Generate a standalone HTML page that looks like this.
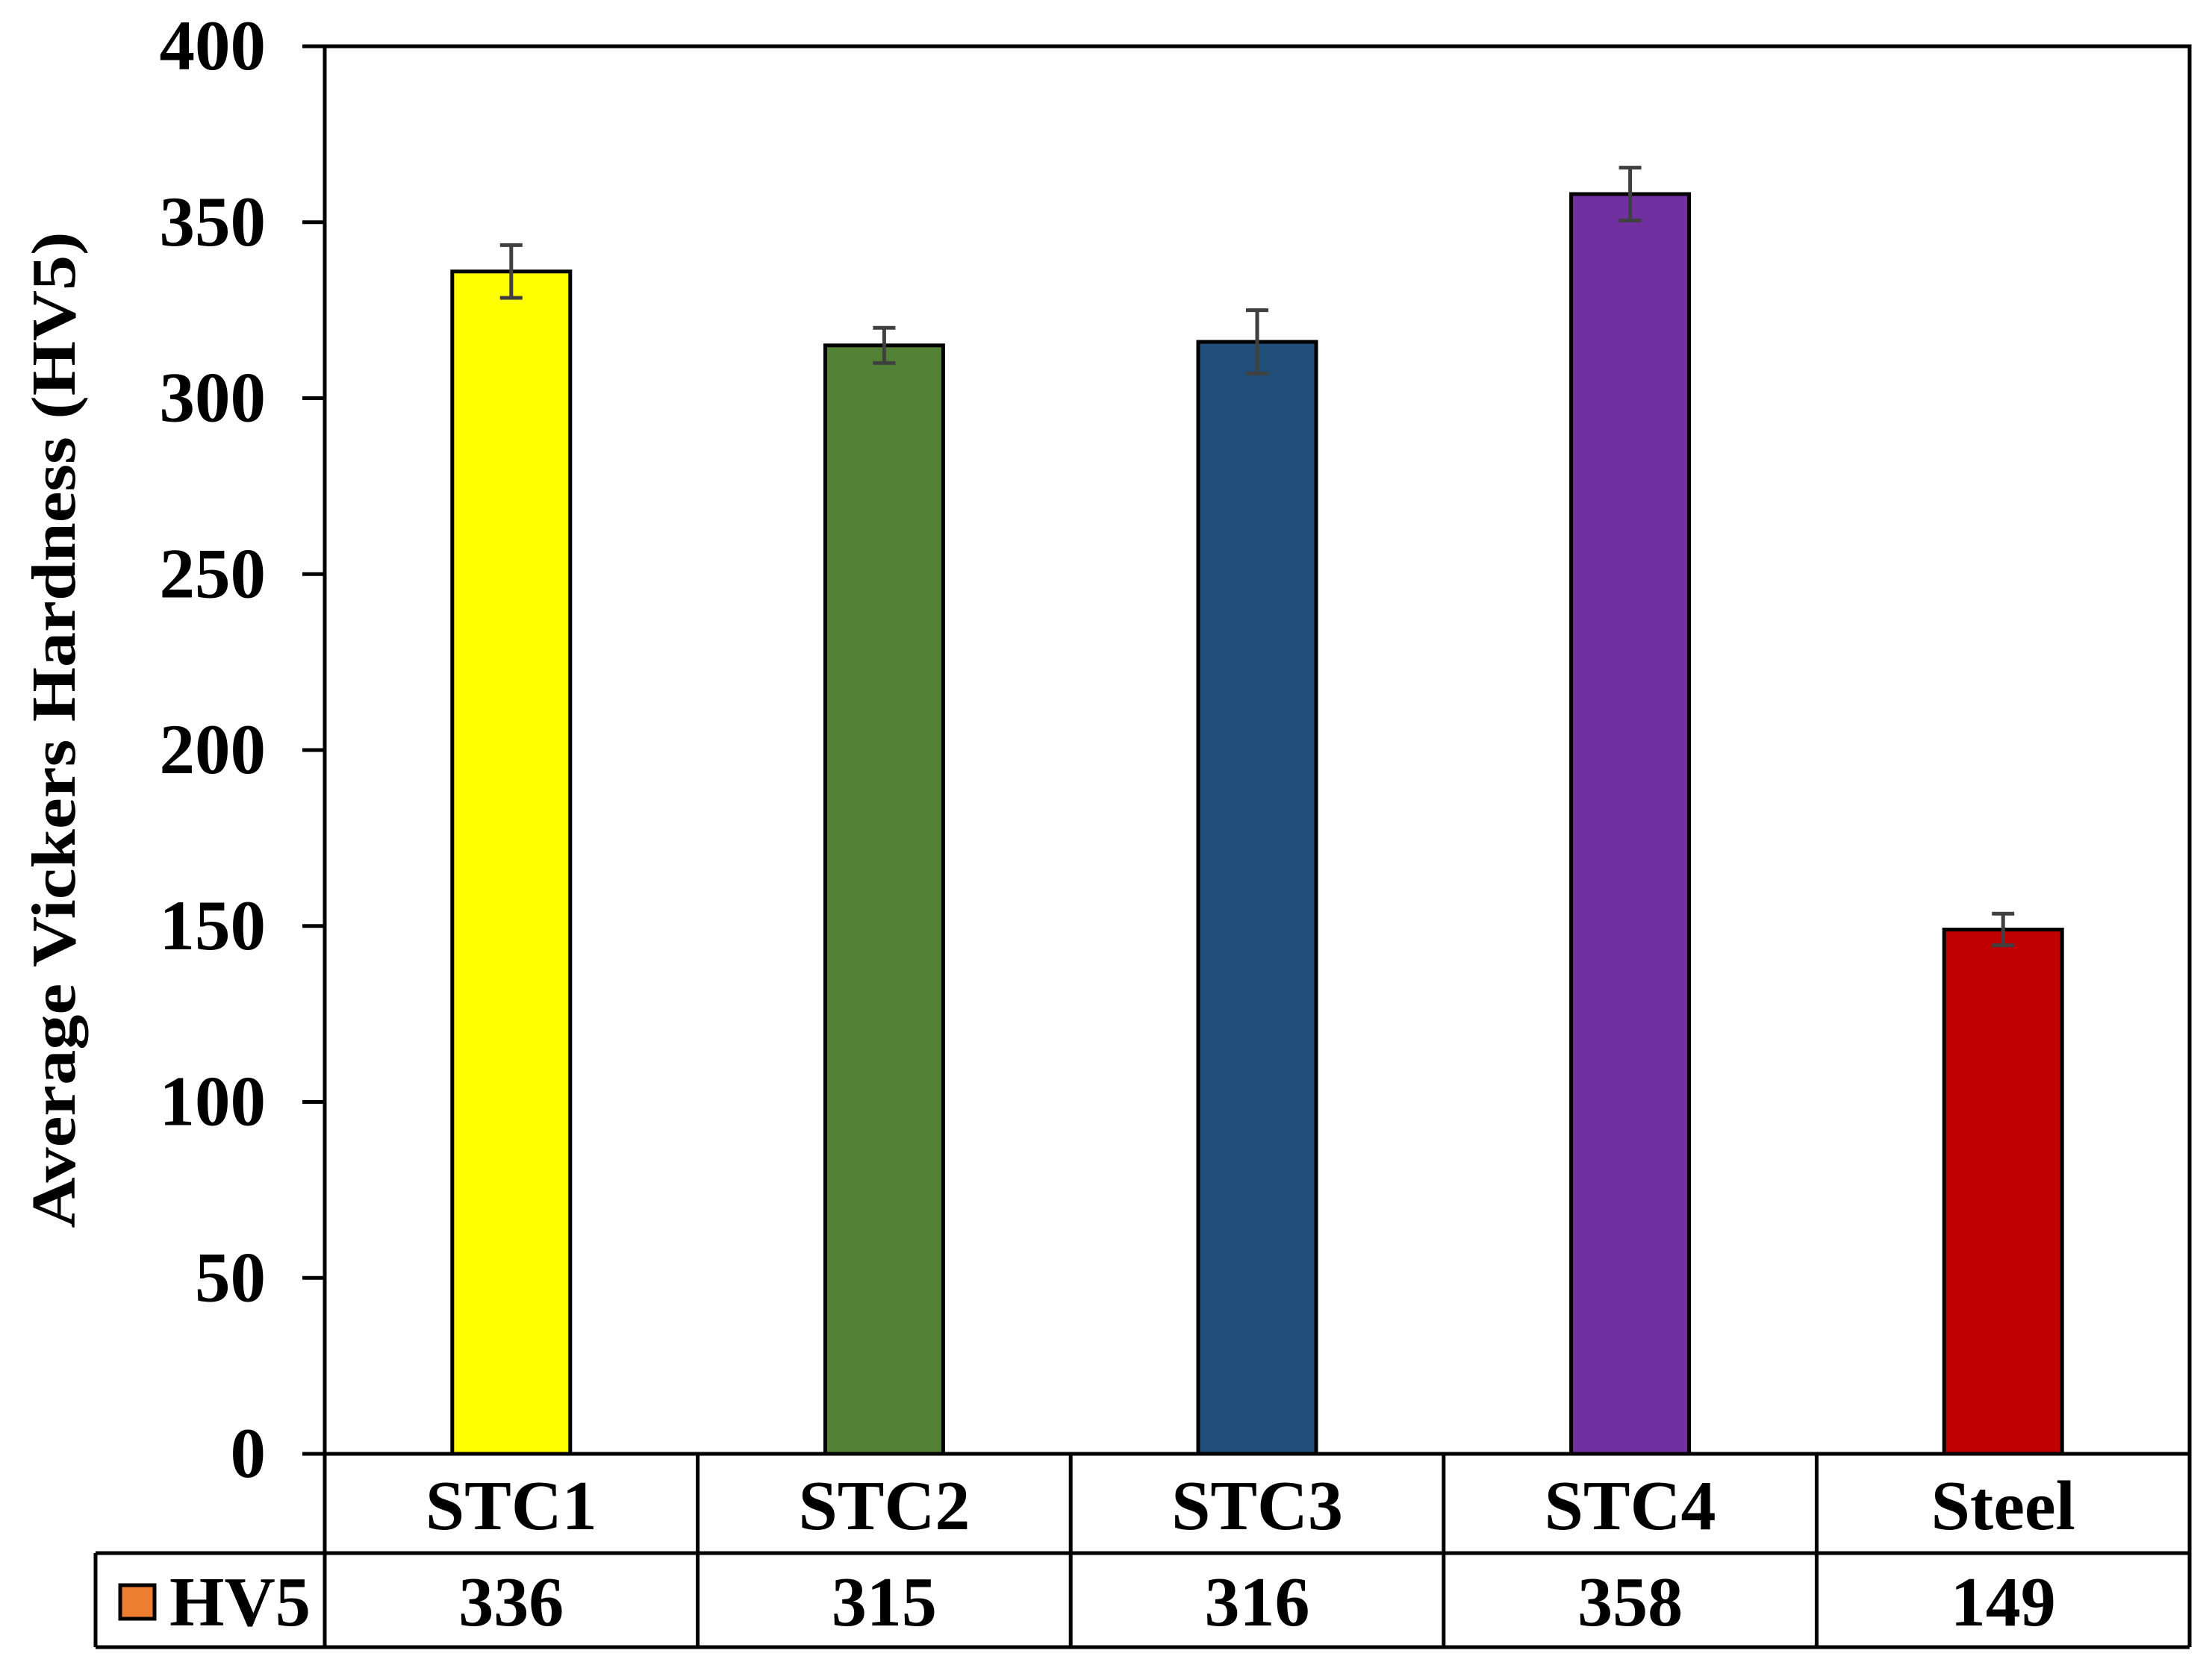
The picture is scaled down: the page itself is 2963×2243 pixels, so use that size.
<!DOCTYPE html>
<html><head><meta charset="utf-8"><style>
html,body{margin:0;padding:0;background:#fff}
svg{display:block}
text{font-family:"Liberation Serif",serif;font-weight:bold;fill:#000}
</style></head><body>
<svg id="chart" width="2963" height="2243" viewBox="0 0 2963 2243" xmlns="http://www.w3.org/2000/svg">
<text transform="translate(100,978) rotate(-90)" text-anchor="middle" font-size="84" textLength="1335" lengthAdjust="spacingAndGlyphs">Average Vickers Hardness (HV5)</text>
<g id="g"></g>
</svg>
<script>
const categories = ["STC1","STC2","STC3","STC4","Steel"];
const values = [336,315,316,358,149];
const errors = [7.5,5,9,7.5,4.5];
const colors = ["#FFFF00","#538135","#1F4E79","#7030A0","#C00000"];
const yTicks = [0,50,100,150,200,250,300,350,400];
const seriesName = "HV5";

const NS="http://www.w3.org/2000/svg";
const g=document.getElementById('g');
const L=435,R=2933,T=62,B=1948,ymax=400;
const cw=(R-L)/categories.length;
const y=v=>B-(v/ymax)*(B-T);
const xc=i=>L+cw*(i+0.5);
function mk(tag,attrs,parent){const e=document.createElementNS(NS,tag);for(const k in attrs)e.setAttribute(k,attrs[k]);(parent||g).appendChild(e);return e;}

yTicks.forEach(t=>{
  const ln=mk('line',{x1:405,x2:L,y1:y(t),y2:y(t),stroke:'#000','stroke-width':5});
  
  
  const tx=mk('text',{x:356,y:y(t)+31,'text-anchor':'end','font-size':95});
  tx.textContent=t;
  
  
});

const bw=158;
values.forEach((v,i)=>{
  const r=mk('rect',{x:xc(i)-bw/2,y:y(v),width:bw,height:B-y(v),fill:colors[i],stroke:'#000','stroke-width':5});
  
  
  const eg=mk('g',{stroke:'#404040','stroke-width':5});
  
  
  const hi=y(v+errors[i]),lo=y(v-errors[i]);
  mk('line',{x1:xc(i),x2:xc(i),y1:hi,y2:lo},eg);
  mk('line',{x1:xc(i)-15,x2:xc(i)+15,y1:hi,y2:hi},eg);
  mk('line',{x1:xc(i)-15,x2:xc(i)+15,y1:lo,y2:lo},eg);
});

const fr=mk('rect',{x:L,y:T,width:R-L,height:B-T,fill:'none',stroke:'#000','stroke-width':5});



const r1=2081,r2=2207,LL=128;
const tb=mk('g',{stroke:'#000','stroke-width':5,fill:'none'});


mk('line',{x1:L,x2:R,y1:B,y2:B},tb);
mk('line',{x1:LL,x2:R,y1:r1,y2:r1},tb);
mk('line',{x1:LL,x2:R,y1:r2,y2:r2},tb);
mk('line',{x1:LL,x2:LL,y1:r1,y2:r2},tb);
for(let i=0;i<=categories.length;i++){mk('line',{x1:L+cw*i,x2:L+cw*i,y1:B,y2:r2},tb);}
categories.forEach((c,i)=>{
  const t=mk('text',{x:xc(i),y:2049,'text-anchor':'middle','font-size':94});
  t.textContent=c;
  
  
  const v=mk('text',{x:xc(i),y:2178,'text-anchor':'middle','font-size':94});
  v.textContent=values[i];
  
  
});
const key=mk('rect',{x:161,y:2124,width:46,height:45,fill:'#ED7D31',stroke:'#000','stroke-width':5});


const kt=mk('text',{x:227,y:2178,'font-size':94,textLength:189,lengthAdjust:'spacingAndGlyphs'});
kt.textContent=seriesName;


</script>
</body></html>
